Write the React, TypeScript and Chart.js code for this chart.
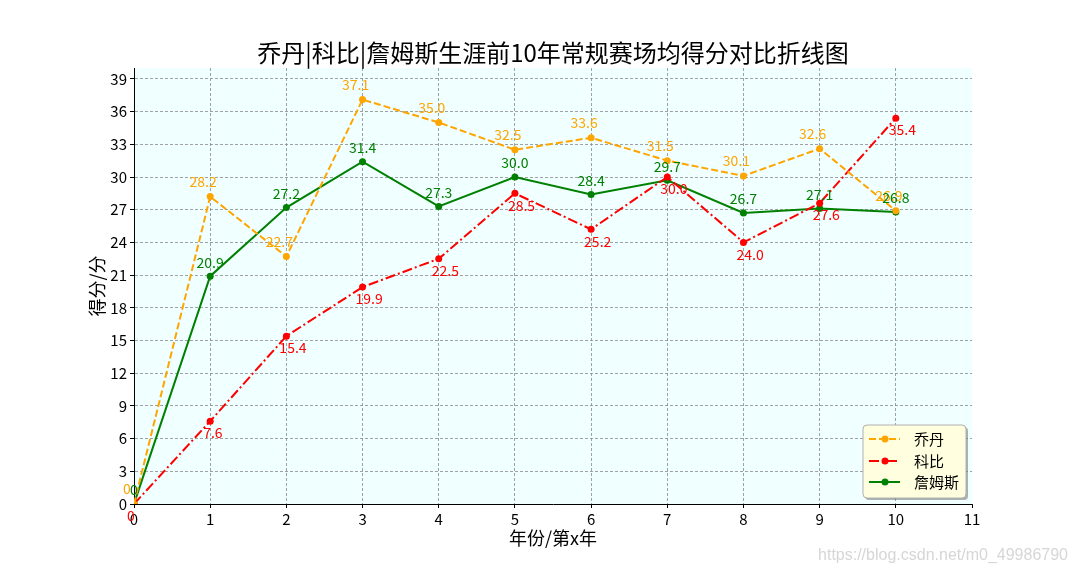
import React, { useEffect, useRef } from "react";
import { Chart, registerables } from "chart.js";

Chart.register(...registerables);

const years = [0, 1, 2, 3, 4, 5, 6, 7, 8, 9, 10];
const jordan = [0, 28.2, 22.7, 37.1, 35.0, 32.5, 33.6, 31.5, 30.1, 32.6, 26.9];
const kobe = [0, 7.6, 15.4, 19.9, 22.5, 28.5, 25.2, 30.0, 24.0, 27.6, 35.4];
const james = [0, 20.9, 27.2, 31.4, 27.3, 30.0, 28.4, 29.7, 26.7, 27.1, 26.8];
const seriesNames = ["乔丹", "科比", "詹姆斯"];
const xTicks = [0, 1, 2, 3, 4, 5, 6, 7, 8, 9, 10, 11];
const yTicks = [0, 3, 6, 9, 12, 15, 18, 21, 24, 27, 30, 33, 36, 39];
const titleText = "乔丹|科比|詹姆斯生涯前10年常规赛场均得分对比折线图";
const xTitle = "年份/第x年";
const yTitle = "得分/分";
const watermark = "https://blog.csdn.net/m0_49986790";

const FONT = '"Noto Sans CJK SC", "DejaVu Sans", sans-serif';
const COLORS = ["#FFA500", "#FF0000", "#008000"];
const DASHES = [[7, 3], [10, 3, 2, 3], []];
const LABEL_ALIGN = ["center", "left", "center"];
const LABEL_OFF = [
  [-7, -15],
  [-7, 12],
  [0, -14],
];

const fmt = (v: number) => (v === 0 ? "0" : v.toFixed(1));

const decorPlugin = {
  id: "decor",
  beforeDraw(chart: any) {
    const { ctx, chartArea: a } = chart;
    ctx.save();
    ctx.fillStyle = "#fff";
    ctx.fillRect(0, 0, chart.width, chart.height);
    ctx.fillStyle = "#F0FFFF";
    ctx.fillRect(a.left, a.top, a.right - a.left, a.bottom - a.top);
    ctx.restore();
  },
  afterDatasetsDraw(chart: any) {
    const { ctx, chartArea: a } = chart;
    const xs = chart.scales.x;
    const ys = chart.scales.y;
    ctx.save();
    // data labels
    ctx.font = `14px ${FONT}`;
    ctx.textBaseline = "middle";
    const all = [jordan, kobe, james];
    all.forEach((arr, si) => {
      ctx.fillStyle = COLORS[si];
      ctx.textAlign = LABEL_ALIGN[si];
      arr.forEach((v, i) => {
        const px = xs.getPixelForValue(years[i]);
        const py = ys.getPixelForValue(v);
        ctx.fillText(fmt(v), px + LABEL_OFF[si][0], py + LABEL_OFF[si][1]);
      });
    });
    ctx.textAlign = "center";
    // title
    ctx.fillStyle = "#000";
    ctx.font = `24px ${FONT}`;
    ctx.fillText(titleText, (a.left + a.right) / 2, 53);
    // axis titles
    ctx.font = `18px ${FONT}`;
    ctx.fillText(xTitle, (a.left + a.right) / 2, 538);
    ctx.save();
    ctx.translate(97, (a.top + a.bottom) / 2);
    ctx.rotate(-Math.PI / 2);
    ctx.fillText(yTitle, 0, 0);
    ctx.restore();

    // legend
    const lx = 863, ly = 425, lw = 103, lh = 73;
    const rr = (x: number, y: number, w: number, h: number, r: number) => {
      ctx.beginPath();
      ctx.moveTo(x + r, y);
      ctx.lineTo(x + w - r, y);
      ctx.quadraticCurveTo(x + w, y, x + w, y + r);
      ctx.lineTo(x + w, y + h - r);
      ctx.quadraticCurveTo(x + w, y + h, x + w - r, y + h);
      ctx.lineTo(x + r, y + h);
      ctx.quadraticCurveTo(x, y + h, x, y + h - r);
      ctx.lineTo(x, y + r);
      ctx.quadraticCurveTo(x, y, x + r, y);
      ctx.closePath();
    };
    ctx.fillStyle = "rgba(100,100,100,0.5)";
    rr(lx + 2, ly + 2, lw, lh, 4);
    ctx.fill();
    ctx.fillStyle = "#FFFFE0";
    rr(lx, ly, lw, lh, 4);
    ctx.fill();
    ctx.strokeStyle = "#b0b0b0";
    ctx.lineWidth = 1;
    ctx.stroke();
    const rowsY = [439, 461, 482];
    ctx.font = `15px ${FONT}`;
    ctx.textAlign = "left";
    seriesNames.forEach((name, si) => {
      const y = rowsY[si];
      ctx.strokeStyle = COLORS[si];
      ctx.lineWidth = 2;
      ctx.setLineDash(DASHES[si]);
      ctx.beginPath();
      ctx.moveTo(869, y);
      ctx.lineTo(900, y);
      ctx.stroke();
      ctx.setLineDash([]);
      ctx.fillStyle = COLORS[si];
      ctx.beginPath();
      ctx.arc(885, y, 3.5, 0, Math.PI * 2);
      ctx.fill();
      ctx.fillStyle = "#000";
      ctx.fillText(name, 914, y);
    });

    // watermark
    ctx.font = `16px "Liberation Sans", Arial, sans-serif`;
    ctx.fillStyle = "rgba(200,200,200,0.75)";
    ctx.textAlign = "right";
    ctx.fillText(watermark, 1068, 556);
    ctx.restore();
  },
};

export default function App() {
  const ref = useRef<HTMLCanvasElement | null>(null);
  useEffect(() => {
    document.body.style.margin = "0";
    const canvas = ref.current!;
    const mk = (arr: number[], si: number) => ({
      label: seriesNames[si],
      data: arr.map((v, i) => ({ x: years[i], y: v })),
      borderColor: COLORS[si],
      backgroundColor: COLORS[si],
      borderWidth: 2,
      borderDash: DASHES[si],
      pointRadius: 3.5,
      pointBorderWidth: 0,
      pointBackgroundColor: COLORS[si],
      tension: 0,
      fill: false,
    });
    const gridColor = (c: any) =>
      c.tick && c.tick.value === 11 ? "rgba(0,0,0,0)" : "#8a8a8a";
    const chart = new Chart(canvas, {
      type: "line",
      data: {
        datasets: [mk(jordan, 0), mk(kobe, 1), mk(james, 2)],
      },
      options: {
        responsive: false,
        animation: false,
        devicePixelRatio: 1,
        layout: { padding: { top: 68, right: 108, left: 0, bottom: 0 } },
        plugins: {
          legend: { display: false },
          title: { display: false },
          tooltip: { enabled: false },
        },
        scales: {
          x: {
            type: "linear",
            min: 0,
            max: 11,
            afterBuildTicks: (s: any) => {
              s.ticks = xTicks.map((v) => ({ value: v }));
            },
            afterFit: (s: any) => {
              s.height = 72;
            },
            ticks: {
              color: "#000",
              font: { family: FONT, size: 15 },
              padding: 2,
              maxRotation: 0,
              autoSkip: false,
            },
            grid: {
              color: gridColor,
              lineWidth: 0.8,
              tickColor: "#000",
              tickLength: 4,
              tickWidth: 1,
              tickBorderDash: [],
            },
            border: { display: true, color: "#000", width: 1, dash: [3, 2] },
          },
          y: {
            type: "linear",
            min: 0,
            max: 40,
            afterBuildTicks: (s: any) => {
              s.ticks = yTicks.map((v) => ({ value: v }));
            },
            afterFit: (s: any) => {
              s.width = 134;
            },
            ticks: {
              color: "#000",
              font: { family: FONT, size: 15 },
              padding: 3,
              autoSkip: false,
            },
            grid: {
              color: "#8a8a8a",
              lineWidth: 0.8,
              tickColor: "#000",
              tickLength: 4,
              tickWidth: 1,
              tickBorderDash: [],
            },
            border: { display: true, color: "#000", width: 1, dash: [3, 2] },
          },
        },
      },
      plugins: [decorPlugin],
    } as any);
    return () => chart.destroy();
  }, []);
  return (
    <div style={{ position: "absolute", left: 0, top: 0, width: 1080, height: 576 }}>
      <canvas ref={ref} width={1080} height={576} style={{ width: 1080, height: 576 }} />
    </div>
  );
}
